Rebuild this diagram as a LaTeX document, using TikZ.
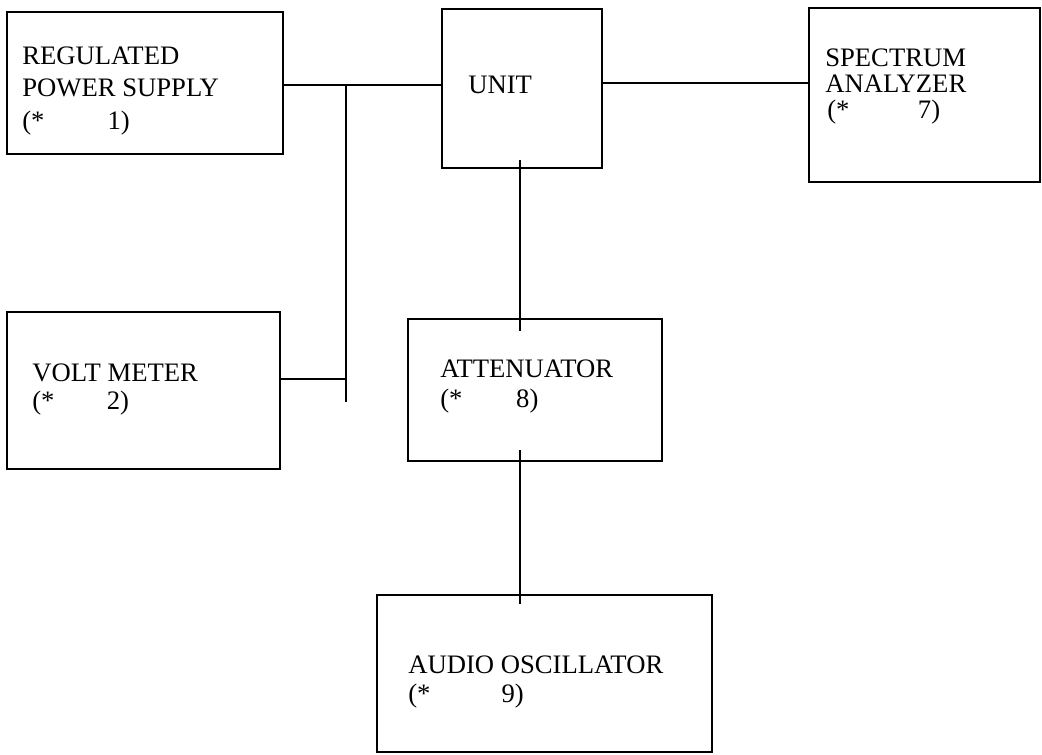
\documentclass[tikz,border=0pt]{standalone}
\usepackage{fontspec}
\setmainfont{Liberation Serif}
\usetikzlibrary{fit,calc}
\newcommand\starnum[2]{\makebox[#1][l]{(*}#2)}
\begin{document}
\begin{tikzpicture}[x=0.75pt,y=-0.75pt,
  box/.style={draw=black, line width=2pt, inner sep=0pt, rectangle},
  txt/.style={anchor=base west, inner sep=0pt, font=\fontsize{20}{24}\selectfont},
  wire/.style={draw=black, line width=2pt}]
\useasboundingbox[fill=white] (0,0) rectangle (1042,755);
% boxes
\node[box, fit={(7,12) (283,154)}] (ps) {};
\node[box, fit={(442,9) (602,168)}] (unit) {};
\node[box, fit={(809,8) (1040,182)}] (spec) {};
\node[box, fit={(7,312) (280,469)}] (volt) {};
\node[box, fit={(408,319) (662,461)}] (att) {};
\node[box, fit={(377,595) (712,752)}] (audio) {};
% texts
\node[txt] (ps1) at (22,65) {REGULATED};
\node[txt] (ps2) at (22,97) {POWER SUPPLY};
\node[txt] (ps3) at (22,130) {\starnum{64pt}{1}};
\node[txt] (unit1) at (468,94) {UNIT};
\node[txt] (spec1) at (825,67) {SPECTRUM};
\node[txt] (spec2) at (825,93) {ANALYZER};
\node[txt] (spec3) at (827,119) {\starnum{68pt}{7}};
\node[txt] (volt1) at (32,382) {VOLT METER};
\node[txt] (volt2) at (32,410) {\starnum{56pt}{2}};
\node[txt] (att1) at (440,378) {ATTENUATOR};
\node[txt] (att2) at (440,407) {\starnum{57pt}{8}};
\node[txt] (audio1) at (408,673) {AUDIO OSCILLATOR};
\node[txt] (audio2) at (408,702) {\starnum{70pt}{9}};
% connector helpers
\coordinate (jx) at (346,402);
\coordinate (vx) at (520,0);
% connectors
\draw[wire] (ps.east |- 0,85) -- (unit.west |- 0,85);
\draw[wire] (jx |- 0,85) -- (jx);
\draw[wire] (volt.east |- 0,379) -- (jx |- 0,379);
\draw[wire] (unit.east |- 0,83) -- (spec.west |- 0,83);
\draw[wire] ($(unit.south -| vx)+(0,-9)$) -- ($(att.north -| vx)+(0,13)$);
\draw[wire] ($(att.south -| vx)+(0,-12)$) -- ($(audio.north -| vx)+(0,10)$);
\end{tikzpicture}
\end{document}
